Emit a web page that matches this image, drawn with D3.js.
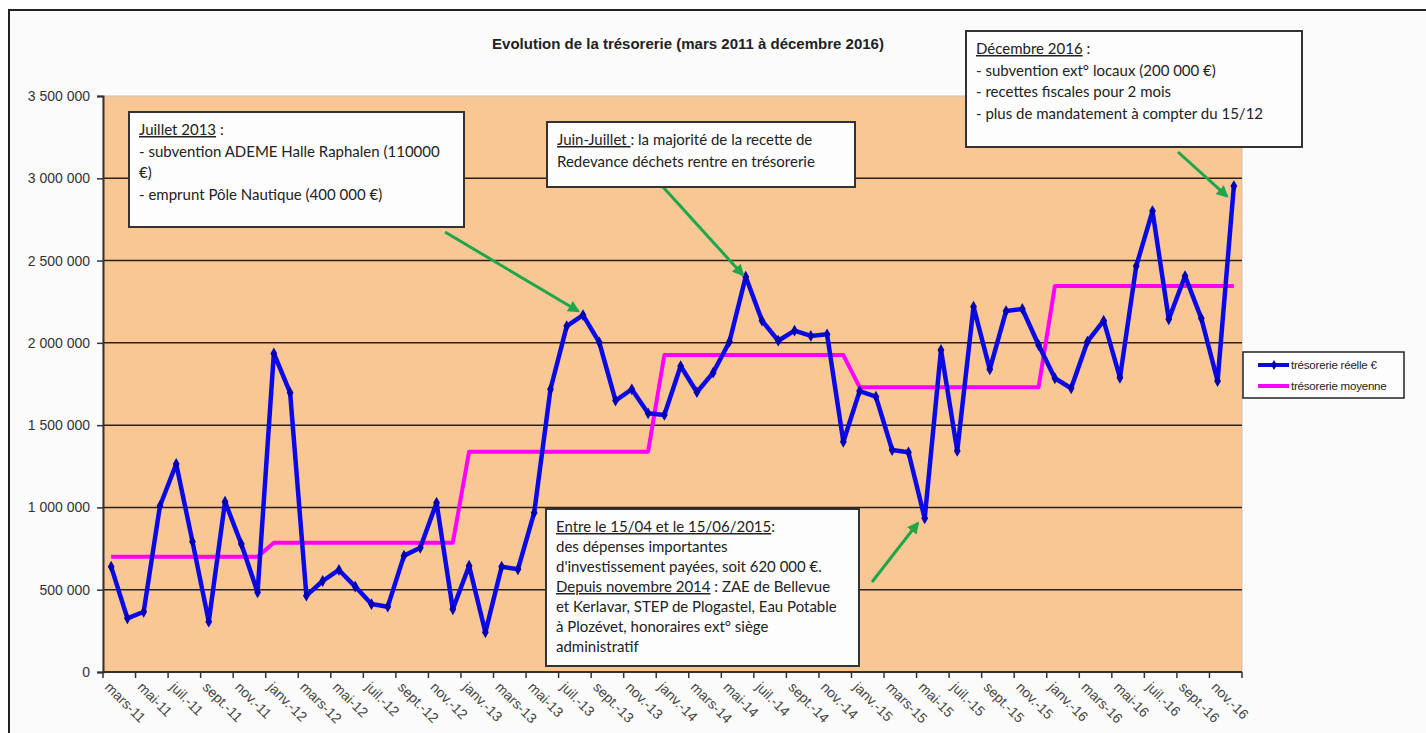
<!DOCTYPE html>
<html>
<head>
<meta charset="utf-8">
<script src="https://cdn.jsdelivr.net/npm/d3@7"></script>
<style>
  body { margin: 0; background: #ffffff; }
  svg { display: block; }
</style>
</head>
<body>
<div id="chart"></div>
<script>
// mois (mars 2011 -> décembre 2016)
const mois = [
  "mars-11", "avr.-11", "mai-11", "juin-11", "juil.-11", "août-11", "sept.-11", "oct.-11", "nov.-11", "déc.-11",
  "janv.-12", "févr.-12", "mars-12", "avr.-12", "mai-12", "juin-12", "juil.-12", "août-12", "sept.-12", "oct.-12", "nov.-12", "déc.-12",
  "janv.-13", "févr.-13", "mars-13", "avr.-13", "mai-13", "juin-13", "juil.-13", "août-13", "sept.-13", "oct.-13", "nov.-13", "déc.-13",
  "janv.-14", "févr.-14", "mars-14", "avr.-14", "mai-14", "juin-14", "juil.-14", "août-14", "sept.-14", "oct.-14", "nov.-14", "déc.-14",
  "janv.-15", "févr.-15", "mars-15", "avr.-15", "mai-15", "juin-15", "juil.-15", "août-15", "sept.-15", "oct.-15", "nov.-15", "déc.-15",
  "janv.-16", "févr.-16", "mars-16", "avr.-16", "mai-16", "juin-16", "juil.-16", "août-16", "sept.-16", "oct.-16", "nov.-16", "déc.-16"
];

const tresorerieReelle = [
  640000, 326000, 366000, 1009000, 1264000, 792000, 306000, 1035000, 778000, 484000,
  1936000, 1697000, 464000, 553000, 620000, 519000, 413000, 397000, 707000, 755000, 1029000, 381000,
  646000, 241000, 640000, 624000, 968000, 1718000, 2102000, 2169000, 2003000, 1649000, 1718000, 1572000,
  1562000, 1859000, 1700000, 1819000, 2007000, 2402000, 2135000, 2013000, 2074000, 2042000, 2052000, 1399000,
  1707000, 1673000, 1349000, 1335000, 934000, 1957000, 1343000, 2220000, 1839000, 2193000, 2206000, 1987000,
  1785000, 1724000, 2007000, 2135000, 1788000, 2467000, 2801000, 2143000, 2406000, 2149000, 1768000, 2953000
];

const tresorerieMoyenne = [
  700000, 700000, 700000, 700000, 700000, 700000, 700000, 700000, 700000, 700000,
  786000, 786000, 786000, 786000, 786000, 786000, 786000, 786000, 786000, 786000, 786000, 786000,
  1339000, 1339000, 1339000, 1339000, 1339000, 1339000, 1339000, 1339000, 1339000, 1339000, 1339000, 1339000,
  1926000, 1926000, 1926000, 1926000, 1926000, 1926000, 1926000, 1926000, 1926000, 1926000, 1926000, 1926000,
  1731000, 1731000, 1731000, 1731000, 1731000, 1731000, 1731000, 1731000, 1731000, 1731000, 1731000, 1731000,
  2345000, 2345000, 2345000, 2345000, 2345000, 2345000, 2345000, 2345000, 2345000, 2345000, 2345000, 2345000
];

const yTicks = [0, 500000, 1000000, 1500000, 2000000, 2500000, 3000000, 3500000];
const series = ["trésorerie réelle €", "trésorerie moyenne"];

// annotations : lignes de texte, [texte souligné, suite]
const notes = [
  { x: 129, y: 112, w: 335, h: 115, lines: [["Juillet 2013", " :"], ["", "- subvention ADEME Halle Raphalen (110000"], ["", "€)"], ["", "- emprunt Pôle Nautique (400 000 €)"]] },
  { x: 547, y: 122, w: 308, h: 65, lines: [["Juin-Juillet ", ": la majorité de la recette de"], ["", "Redevance déchets rentre en trésorerie"]] },
  { x: 966, y: 31, w: 336, h: 116, lines: [["Décembre 2016", " :"], ["", "- subvention ext° locaux (200 000 €)"], ["", "- recettes fiscales pour 2 mois"], ["", "- plus de mandatement à compter du 15/12"]] },
  { x: 546, y: 509, w: 313, h: 157, lh: 20, lines: [["Entre le 15/04 et le 15/06/2015", ":"], ["", "des dépenses importantes"], ["", "d'investissement payées, soit 620 000 €."], ["Depuis novembre 2014", " : ZAE de Bellevue"], ["", "et Kerlavar, STEP de Plogastel, Eau Potable"], ["", "à Plozévet, honoraires ext° siège"], ["", "administratif"]] }
];

// flèches : point visé (indice du mois) + départ
const fleches = [
  { i: 29, dx: -5, dy: -4, fromX: 445, fromY: 232 },
  { i: 39, dx: -3, dy: -2, fromX: 663, fromY: 187 },
  { i: 69, dx: -7, dy: 10, fromX: 1178, fromY: 152 },
  { i: 50, dx: -7, dy: 5, fromX: 872, fromY: 582 }
];

const width = 1426, height = 733;
const plotLeft = 103, plotRight = 1242, plotTop = 96, plotBottom = 672;

const svg = d3.select("#chart").append("svg")
  .attr("width", width)
  .attr("height", height);

svg.append("rect").attr("width", width).attr("height", height).attr("fill", "#ffffff");
svg.append("rect")
  .attr("x", 9).attr("y", 10).attr("width", 1460).attr("height", 800)
  .attr("fill", "#fbfbfb").attr("stroke", "#222").attr("stroke-width", 2);

const x = d3.scalePoint().domain(mois).range([plotLeft, plotRight]).padding(0.5);
const xBand = d3.scaleBand().domain(mois).range([plotLeft, plotRight]);
const y = d3.scaleLinear().domain([0, 3500000]).range([plotBottom, plotTop]);

const fr = d3.formatLocale({ decimal: ",", thousands: " ", grouping: [3], currency: ["", " €"] });
const fmt = fr.format(",d");

// zone de tracé
svg.append("rect")
  .attr("x", plotLeft).attr("y", plotTop).attr("width", plotRight - plotLeft).attr("height", plotBottom - plotTop)
  .attr("fill", "#f9c794").attr("stroke", "#c9c0b6").attr("stroke-width", 1);

// grille
svg.append("g").selectAll("line")
  .data(yTicks.filter(d => d > 0 && d < 3500000))
  .join("line")
  .attr("x1", plotLeft).attr("x2", plotRight)
  .attr("y1", d => y(d)).attr("y2", d => y(d))
  .attr("stroke", "#2a2018").attr("stroke-width", 1.5);

// axe Y
const yAxis = svg.append("g")
  .attr("transform", `translate(${plotLeft},0)`)
  .call(d3.axisLeft(y).tickValues(yTicks).tickFormat(fmt).tickSize(6).tickPadding(7));
yAxis.select(".domain").attr("stroke", "#333").attr("stroke-width", 2);
yAxis.selectAll(".tick line").attr("stroke", "#333").attr("stroke-width", 1.5);
yAxis.selectAll("text")
  .attr("font-family", "Liberation Sans, Arial, sans-serif")
  .attr("font-size", 14).attr("fill", "#333");

// axe X
const xg = svg.append("g");
xg.append("line")
  .attr("x1", plotLeft).attr("x2", plotRight).attr("y1", plotBottom).attr("y2", plotBottom)
  .attr("stroke", "#333").attr("stroke-width", 2);
const bornes = mois.filter((d, i) => i % 2 === 0).map(d => xBand(d)).concat([plotRight]);
xg.selectAll("line.tk")
  .data(bornes)
  .join("line")
  .attr("class", "tk")
  .attr("x1", d => d).attr("x2", d => d)
  .attr("y1", plotBottom).attr("y2", plotBottom + 6)
  .attr("stroke", "#333").attr("stroke-width", 1.5);
xg.selectAll("text")
  .data(mois.filter((d, i) => i % 2 === 0))
  .join("text")
  .attr("transform", d => `translate(${x(d)},${plotBottom + 9}) rotate(45)`)
  .attr("dy", "0.71em")
  .attr("font-family", "Liberation Sans, Arial, sans-serif")
  .attr("font-size", 14)
  .attr("fill", "#444")
  .text(d => d);

// courbes
const line = d3.line().x((d, i) => x(mois[i])).y(d => y(d));

svg.append("path")
  .datum(tresorerieMoyenne)
  .attr("d", line)
  .attr("fill", "none")
  .attr("stroke", "#ff00ff")
  .attr("stroke-width", 4)
  .attr("stroke-linejoin", "round");

svg.append("path")
  .datum(tresorerieReelle)
  .attr("d", line)
  .attr("fill", "none")
  .attr("stroke", "#0a0ae6")
  .attr("stroke-width", 4.5)
  .attr("stroke-linejoin", "round");

svg.append("g").selectAll("path")
  .data(tresorerieReelle)
  .join("path")
  .attr("transform", (d, i) => `translate(${x(mois[i])},${y(d)})`)
  .attr("d", d3.symbol(d3.symbolDiamond, 40))
  .attr("fill", "#0000b4");

// flèches
svg.append("defs").append("marker")
  .attr("id", "tete")
  .attr("viewBox", "0 0 10 10")
  .attr("refX", 8).attr("refY", 5)
  .attr("markerWidth", 12).attr("markerHeight", 12)
  .attr("markerUnits", "userSpaceOnUse")
  .attr("orient", "auto")
  .append("path")
  .attr("d", "M0,0 L10,5 L0,10 Z")
  .attr("fill", "#1ea64a");

svg.append("g").selectAll("line")
  .data(fleches)
  .join("line")
  .attr("x1", d => d.fromX).attr("y1", d => d.fromY)
  .attr("x2", d => x(mois[d.i]) + d.dx)
  .attr("y2", d => y(tresorerieReelle[d.i]) + d.dy)
  .attr("stroke", "#1ea64a")
  .attr("stroke-width", 3)
  .attr("marker-end", "url(#tete)");

// cadres de commentaires
const ng = svg.append("g").selectAll("g")
  .data(notes)
  .join("g")
  .attr("transform", d => `translate(${d.x},${d.y})`);
ng.append("rect")
  .attr("width", d => d.w).attr("height", d => d.h)
  .attr("fill", "#fdfdfd").attr("stroke", "#333").attr("stroke-width", 2);
ng.each(function(d) {
  const lh = d.lh || 21.5;
  const t = d3.select(this).append("text")
    .attr("font-family", "Lato, 'Open Sans', sans-serif")
    .attr("font-size", 15)
    .attr("fill", "#222");
  d.lines.forEach((l, k) => {
    const row = t.append("tspan").attr("x", 10).attr("y", 23 + k * lh);
    if (l[0]) row.append("tspan").attr("text-decoration", "underline").text(l[0]);
    row.append("tspan").text(l[1]);
  });
});

// titre
svg.append("text")
  .attr("x", 688).attr("y", 49)
  .attr("text-anchor", "middle")
  .attr("font-family", "Liberation Sans, Arial, sans-serif")
  .attr("font-weight", "bold")
  .attr("font-size", 15)
  .attr("fill", "#222")
  .text("Evolution de la trésorerie (mars 2011 à décembre 2016)");

// légende
const lg = svg.append("g").attr("transform", "translate(1243,352)");
lg.append("rect").attr("width", 161).attr("height", 46)
  .attr("fill", "#fdfdfd").attr("stroke", "#222").attr("stroke-width", 1.5);
const couleurs = ["#0a0ae6", "#ff00ff"];
series.forEach((s, k) => {
  const yy = 13 + k * 21;
  lg.append("line").attr("x1", 15).attr("x2", 46).attr("y1", yy).attr("y2", yy)
    .attr("stroke", couleurs[k]).attr("stroke-width", 4);
  if (k === 0) {
    lg.append("path").attr("transform", `translate(31,${yy})`)
      .attr("d", d3.symbol(d3.symbolDiamond, 30)).attr("fill", "#0000b4");
  }
  lg.append("text").attr("x", 48).attr("y", yy).attr("dy", "0.35em")
    .attr("font-family", "Liberation Sans, Arial, sans-serif")
    .attr("font-size", 11.5).attr("fill", "#222")
    .attr("letter-spacing", -0.2)
    .text(s);
});
</script>
</body>
</html>
